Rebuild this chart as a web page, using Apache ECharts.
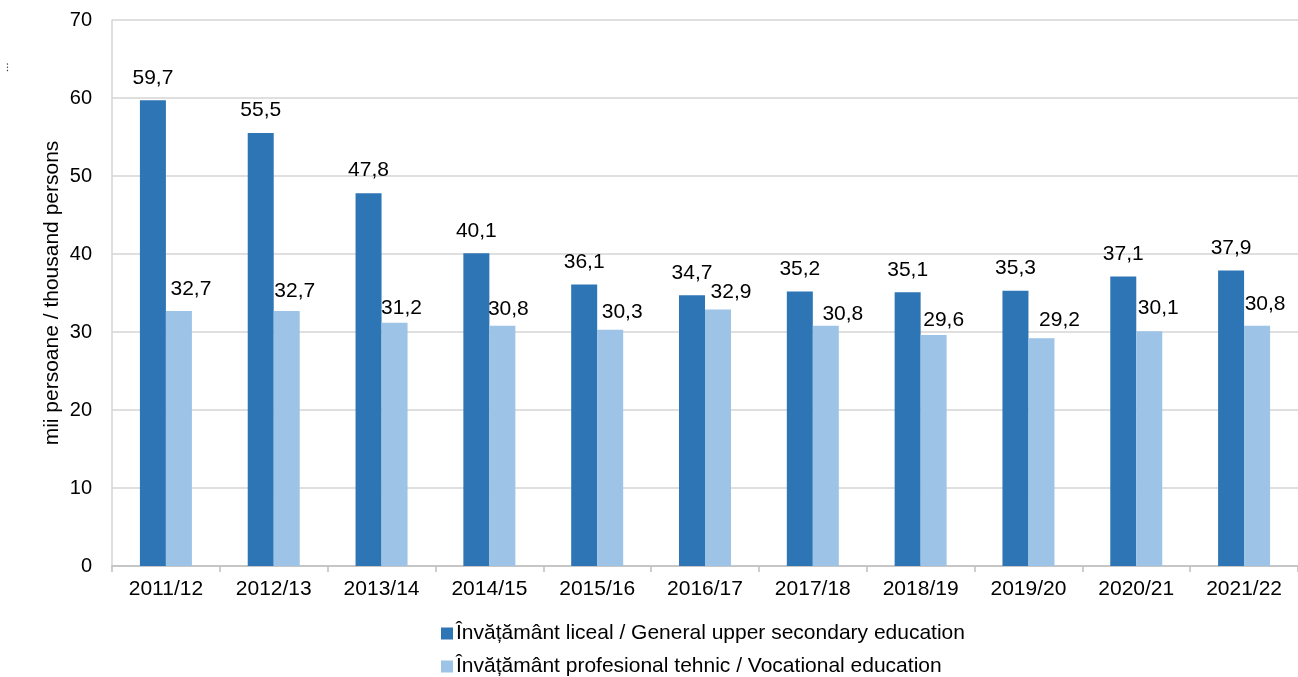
<!DOCTYPE html>
<html><head><meta charset="utf-8">
<script src="https://cdn.jsdelivr.net/npm/echarts@6/dist/echarts.min.js"></script>
<style>html,body{margin:0;padding:0;background:#fff}#c{width:1298px;height:677px}</style>
</head><body><div id="c"></div>
<script>
const categories = ['2011/12','2012/13','2013/14','2014/15','2015/16','2016/17','2017/18','2018/19','2019/20','2020/21','2021/22'];
const generalEdu = [59.7,55.5,47.8,40.1,36.1,34.7,35.2,35.1,35.3,37.1,37.9];
const vocationalEdu = [32.7,32.7,31.2,30.8,30.3,32.9,30.8,29.6,29.2,30.1,30.8];
const seriesNames = ['Învățământ liceal / General upper secondary education','Învățământ profesional tehnic / Vocational education'];
const yTicks = [0,10,20,30,40,50,60,70];
const yAxisName = 'mii persoane / thousand persons';
// label nudges (styling only) for the vocational series labels, as in the source
const vocLabelDx = [12,8,7,6,12,13,17,10,18,9,8];
const vocLabelDy = [1,3,8,6,5,5,11,8,4,-1,1];

const font = 'Liberation Sans, Arial, sans-serif';
const chart = echarts.init(document.getElementById('c'), null, {renderer:'canvas'});
const fmt = p => p.value.toFixed(1).replace('.', ',');
const baseLbl = {show:true, position:'top', distance:12, color:'#000', fontSize:21, fontFamily:font, formatter:fmt};
const legendText = {fontSize:21, color:'#000', fontFamily:font, padding:[0,0,0,-2]};
chart.setOption({
  animation:false,
  textStyle:{fontFamily:font},
  grid:{left:112, right:-4, top:20, bottom:111, containLabel:false},
  legend:[
    {orient:'horizontal', left:436, top:618, itemWidth:12, itemHeight:12, icon:'rect', textStyle:legendText, data:[seriesNames[0]]},
    {orient:'horizontal', left:436, top:651, itemWidth:12, itemHeight:12, icon:'rect', textStyle:legendText, data:[seriesNames[1]]}
  ],
  xAxis:{type:'category', data:categories,
    axisLine:{lineStyle:{color:'#bfbfbf', width:1.5}},
    axisTick:{show:true, length:6, lineStyle:{color:'#bfbfbf', width:1.5}},
    axisLabel:{color:'#000', fontSize:21, margin:13, fontFamily:font}},
  yAxis:{type:'value', min:yTicks[0], max:yTicks[yTicks.length-1], interval:10,
    name:yAxisName, nameLocation:'middle', nameGap:49, nameRotate:90, nameMoveOverlap:false,
    nameTextStyle:{color:'#000', fontSize:21, fontFamily:font},
    axisLine:{show:true, lineStyle:{color:'#d4d4d4', width:1.5}},
    axisTick:{show:false},
    axisLabel:{color:'#000', fontSize:20, margin:20, fontFamily:font},
    splitLine:{lineStyle:{color:'#d4d4d4', width:1.5}}},
  series:[
    {name:seriesNames[0], type:'bar', data:generalEdu, barWidth:26, barGap:'0%',
     itemStyle:{color:'#2E75B6'}, label:baseLbl},
    {name:seriesNames[1], type:'bar', barWidth:26, barGap:'0%',
     itemStyle:{color:'#9DC3E6'}, label:baseLbl,
     data: vocationalEdu.map((v,i) => ({value:v, label:{offset:[vocLabelDx[i], vocLabelDy[i]]}}))}
  ],
  graphic:[{type:'text', left:6, top:62, style:{text:'⁝', fontSize:11, fill:'#444'}}]
});
</script></body></html>
